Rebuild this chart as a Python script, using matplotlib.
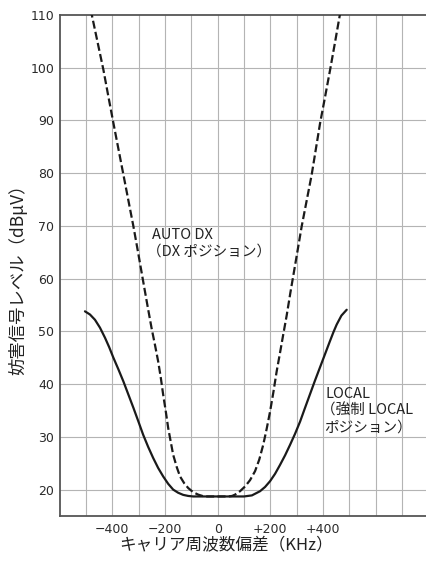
import matplotlib
matplotlib.use("Agg")
import matplotlib.pyplot as plt

# ---- data ----
local_x = [-504, -485, -466, -447, -428, -412, -396, -377, -358, -339, -320, -301, -283,
           -264, -245, -226, -207, -188, -169, -150, -131, -112, -93, -67, 0, 60, 100,
           130, 161, 180, 199, 218, 237, 256, 275, 294, 313, 331, 350, 369, 388, 407,
           426, 440, 452, 470, 490]
local_y = [53.8, 53.2, 52.2, 50.7, 48.8, 47.0, 45.0, 42.8, 40.5, 38.0, 35.5, 32.9, 30.4,
           28.1, 26.0, 24.1, 22.5, 21.1, 20.0, 19.4, 19.0, 18.8, 18.7, 18.7, 18.7, 18.7, 18.7,
           18.9, 19.7, 20.5, 21.6, 23.0, 24.7, 26.5, 28.5, 30.6, 32.9, 35.4, 38.0, 40.6,
           43.1, 45.6, 48.1, 49.9, 51.3, 53.0, 54.1]

autodx_x = [-482, -478, -456, -434, -415, -396, -377, -358, -339, -320, -302, -283, -267,
            -251, -238, -226, -216, -207, -197, -188, -178, -169, -155, -143, -127, -112,
            -93, -74, -55, -40, 0, 40, 55, 66, 85, 104, 123, 142, 158, 173, 186, 199, 212,
            224, 237, 249, 262, 276, 300, 319, 338, 357, 373, 389, 408, 427, 446, 465, 470]
autodx_y = [111.0, 110.0, 104.8, 99.6, 94.5, 89.5, 84.6, 79.7, 74.8, 69.9, 64.9, 59.5, 55.0,
            50.6, 47.4, 44.3, 41.2, 38.0, 34.8, 31.7, 29.0, 26.6, 24.2, 22.5, 21.2, 20.3,
            19.5, 19.05, 18.75, 18.7, 18.7, 18.7, 18.8, 19.05, 19.7, 20.6, 21.8, 23.5, 25.7,
            28.5, 31.5, 34.8, 38.6, 42.4, 46.0, 49.4, 53.0, 57.3, 64.3, 69.9, 74.8, 79.7,
            84.6, 89.5, 94.5, 99.6, 104.9, 110.3, 111.6]

x_tick_vals = [-400, -200, 0, 200, 400]
x_tick_labels = ["\u2212400", "\u2212200", "0", "+200", "+400"]
x_grid_vals = [-500, -400, -300, -200, -100, 0, 100, 200, 300, 400, 500, 600, 700]
y_tick_vals = [20, 30, 40, 50, 60, 70, 80, 90, 100, 110]

xlabel = "キャリア周波数偏差（KHz）"
ylabel = "妨害信号レベル（dBμV）"
label_autodx = ["AUTO DX", "（DX ポジション）"]
label_local = ["LOCAL", "（強制 LOCAL", "ポジション）"]

JP = ["Noto Sans CJK JP", "DejaVu Sans"]

fig = plt.figure(figsize=(4.27, 5.62), dpi=100)
ax = fig.add_axes([0.1398, 0.0819, 0.8602, 0.8915])

ax.set_xlim(-600, 795)
ax.set_ylim(15, 110)

ax.set_xticks(x_tick_vals)
ax.set_xticklabels(x_tick_labels)
ax.set_yticks(y_tick_vals)
ax.grid(False)
for xv in x_grid_vals:
    ax.axvline(xv, color="#b4b4b4", lw=0.8, zorder=1)
for yv in y_tick_vals[:-1]:
    ax.axhline(yv, color="#b4b4b4", lw=0.8, zorder=1)

ax.tick_params(axis="both", which="both", length=0)
ax.tick_params(axis="y", pad=4, labelsize=9, labelcolor="#2a2a2a")
ax.tick_params(axis="x", pad=5, labelsize=9, labelcolor="#2a2a2a")

for s in ["left", "bottom", "top"]:
    ax.spines[s].set_color("#555555")
    ax.spines[s].set_linewidth(1.3)
ax.spines["right"].set_visible(False)

# curves
ax.plot(local_x, local_y, color="#1a1a1a", lw=1.6, zorder=3, solid_capstyle="round")
ln, = ax.plot(autodx_x, autodx_y, color="#1a1a1a", lw=1.6, zorder=3)
ln.set_dashes([3.6, 1.5])

# annotations
tc = "#222222"
fs = 10.5
ax.text(-249, 67.6, label_autodx[0], family=JP, fontsize=fs, color=tc, va="baseline", ha="left")
ax.text(-268, 64.3, label_autodx[1], family=JP, fontsize=fs, color=tc, va="baseline", ha="left")
ax.text(408, 37.4, label_local[0], family=JP, fontsize=fs, color=tc, va="baseline", ha="left")
ax.text(392, 34.2, label_local[1], family=JP, fontsize=fs, color=tc, va="baseline", ha="left")
ax.text(404, 31.0, label_local[2], family=JP, fontsize=fs, color=tc, va="baseline", ha="left")

ax.set_xlabel(xlabel, family=JP, fontsize=12, color=tc)
ax.xaxis.set_label_coords((226 - 59.7) / (427 - 59.7), (516 - 546) / 501)
ax.set_ylabel(ylabel, family=JP, fontsize=12.5, color=tc)
ax.yaxis.set_label_coords((18 - 59.7) / (427 - 59.7), (516 - 275) / 501)
ax.xaxis.label.set_va("center")
ax.yaxis.label.set_va("center")

fig.savefig("out.png", dpi=100)
